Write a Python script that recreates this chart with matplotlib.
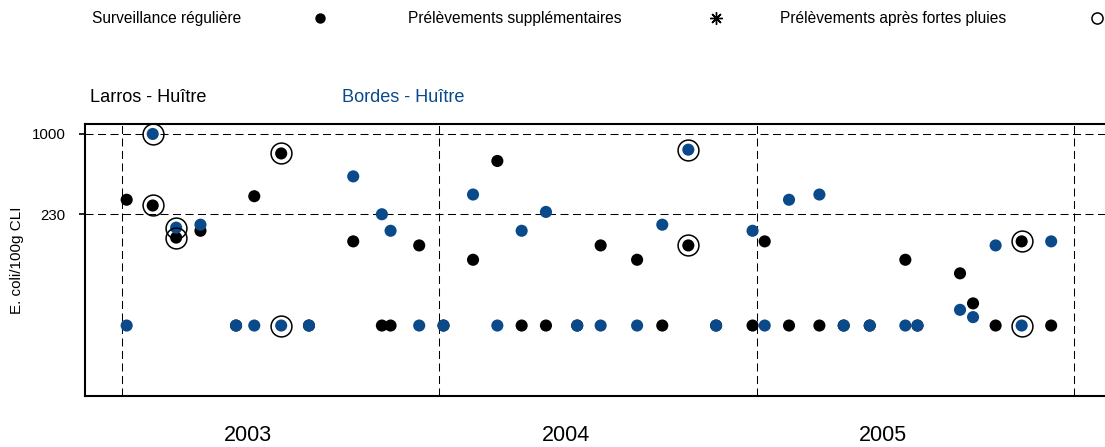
import matplotlib
matplotlib.use('Agg')
import matplotlib.pyplot as plt
import matplotlib.dates as mdates
from matplotlib.lines import Line2D
import pandas as pd

plt.rcParams['font.family'] = ['Liberation Sans', 'DejaVu Sans']

# sampling dates (same dates for both sites)
dates = ['2003-01-06', '2003-02-05', '2003-03-04', '2003-04-01', '2003-05-12',
         '2003-06-02', '2003-07-03', '2003-08-04', '2003-09-24', '2003-10-27',
         '2003-11-06', '2003-12-09', '2004-01-06', '2004-02-09', '2004-03-08',
         '2004-04-05', '2004-05-03', '2004-06-08', '2004-07-05', '2004-08-16',
         '2004-09-14', '2004-10-14', '2004-11-15', '2004-12-27', '2005-01-10',
         '2005-02-07', '2005-03-14', '2005-04-11', '2005-05-11', '2005-06-21',
         '2005-07-05', '2005-08-23', '2005-09-07', '2005-10-03', '2005-11-02',
         '2005-12-06']

# E. coli / 100g CLI
larros = [300, 270, 150, 170, 30, 320, 700, 30, 140, 30,
          30, 130, 30, 100, 610, 30, 30, 30, 130, 100,
          30, 130, 30, 30, 140, 30, 30, 30, 30, 100,
          30, 78, 45, 30, 140, 30]
bordes = [30, 1000, 180, 190, 30, 30, 30, 30, 460, 230,
          170, 30, 30, 330, 30, 170, 240, 30, 30, 30,
          190, 750, 30, 170, 30, 300, 330, 30, 30, 30,
          30, 40, 35, 130, 30, 140]
# sampling after heavy rain
rain = [0, 1, 1, 0, 0, 0, 1, 0, 0, 0,
        0, 0, 0, 0, 0, 0, 0, 0, 0, 0,
        0, 1, 0, 0, 0, 0, 0, 0, 0, 0,
        0, 0, 0, 0, 1, 0]

thresholds = [1000, 230]
years = [2003, 2004, 2005, 2006]
year_labels = ['2003', '2004', '2005']

blue = '#0b4a8a'

x = mdates.date2num(pd.to_datetime(dates))

fig = plt.figure(figsize=(11.05, 4.47), dpi=100)
ax = fig.add_axes([85 / 1105, 51 / 447, 1020 / 1105, 272 / 447])

# reference lines: thresholds and year boundaries
dash = (0, (7.7, 4.3))
for t in thresholds:
    ax.axhline(t, color='black', lw=0.75, ls=dash, zorder=1)
for y in years:
    ax.axvline(mdates.date2num(pd.Timestamp(f'{y}-01-01')), color='black',
               lw=0.75, ls=dash, zorder=1)

ax.scatter(x, larros, s=76, color='black', edgecolors='none', zorder=3)
ax.scatter(x, bordes, s=76, color=blue, edgecolors='none', zorder=4)

# rings around samples taken after heavy rain
xr = [xi for xi, r in zip(x, rain) if r]
for series in (larros, bordes):
    yr = [v for v, r in zip(series, rain) if r]
    ax.plot(xr, yr, ls='none', marker='o', ms=15, mfc='none', mec='black',
            mew=1.1, zorder=5)

ax.set_yscale('log')
ax.set_ylim(8.26, 1200)
ax.set_xlim(mdates.date2num(pd.Timestamp('2002-11-19')),
            mdates.date2num(pd.Timestamp('2006-02-06')))

ax.set_yticks(thresholds)
ax.set_yticklabels([str(t) for t in thresholds])
ax.yaxis.set_minor_locator(matplotlib.ticker.NullLocator())
ax.tick_params(axis='y', length=4, width=1.2, pad=10, labelsize=10.8)

ax.set_xticks([mdates.date2num(pd.Timestamp(f'{y}-05-26')) for y in years[:-1]])
ax.set_xticklabels(year_labels)
ax.tick_params(axis='x', length=0, pad=21, labelsize=15.5)

ax.spines['right'].set_visible(False)
for s in ('left', 'top', 'bottom'):
    ax.spines[s].set_linewidth(1.5)

fig.text(17.5 / 1105, 1 - 260 / 447, 'E. coli/100g CLI',
         rotation=90, ha='center', va='center', fontsize=11)

# site titles
fig.text(90 / 1105, 1 - 97 / 447, 'Larros - Huître', fontsize=13.1,
         ha='left', va='center', color='black')
fig.text(342 / 1105, 1 - 97 / 447, 'Bordes - Huître', fontsize=13.1,
         ha='left', va='center', color=blue)

# legend along the top
ly = 1 - 18 / 447
fig.text(92 / 1105, ly, 'Surveillance régulière', fontsize=11.2, ha='left', va='center')
fig.text(408 / 1105, ly, 'Prélèvements supplémentaires', fontsize=11.2, ha='left', va='center')
fig.text(780 / 1105, ly, 'Prélèvements après fortes pluies', fontsize=11.2, ha='left', va='center')
fig.add_artist(Line2D([320 / 1105], [ly], transform=fig.transFigure, marker='o',
                      ms=7.5, color='black', mec='none'))
fig.add_artist(Line2D([716 / 1105], [ly], transform=fig.transFigure, marker=(8, 2, 0),
                      ms=9, color='black', mew=1.0))
fig.add_artist(Line2D([1097 / 1105], [ly], transform=fig.transFigure, marker='o',
                      ms=8, mfc='none', mec='black', mew=1.1))

fig.savefig('out.png', dpi=100)
